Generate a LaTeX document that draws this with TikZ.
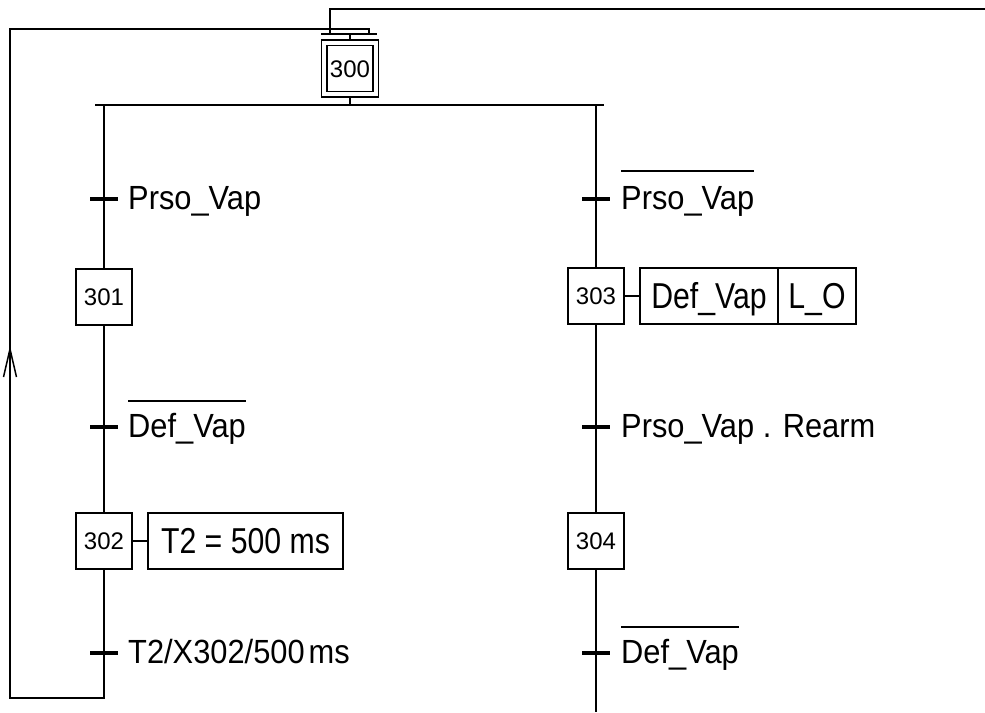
\documentclass[tikz,border=0pt]{standalone}
\usepackage{fontspec}
\setmainfont{Liberation Sans}
\newfontfamily\lblfont[FakeStretch=0.92]{Liberation Sans}
\newfontfamily\actfont[FakeStretch=0.84]{Liberation Sans}
\begin{document}
\begin{tikzpicture}[x=1pt,y=-1pt,
  ln/.style={line width=2pt},
  stepbox/.style={draw,line width=1.6pt,minimum width=56pt,minimum height=56pt,inner sep=0pt,text height=17pt,text depth=0pt,font=\fontsize{24}{28}\selectfont},
  actbox/.style={draw,line width=1.6pt,minimum height=56pt,inner sep=0pt,text height=25.8pt,text depth=0pt,font=\actfont\fontsize{36}{42}\selectfont},
  lbl/.style={anchor=base west,inner sep=0pt,font=\lblfont\fontsize{33.5}{40}\selectfont},
  tick/.style={line width=3.5pt},
  ovl/.style={line width=1.8pt}]
\useasboundingbox (0,0) rectangle (985,712);
% steps
\node[stepbox,minimum width=57pt,minimum height=57pt] (s300) at (350,68.5) {};
\node[stepbox,minimum width=46pt,minimum height=46pt] (s300i) at (350,68.5) {300};
\node[stepbox] (s301) at (104,297) {301};
\node[stepbox] (s302) at (104,541) {302};
\node[stepbox] (s303) at (596,296) {303};
\node[stepbox] (s304) at (596,541) {304};
% actions
\node[actbox,minimum width=195pt] (a302) at (245.5,541) {T2 = 500 ms};
\node[actbox,minimum width=138pt] (a303a) at (709,296) {Def\_Vap};
\node[actbox,minimum width=78pt] (a303b) at (817,296) {L\_O};
\draw[ln] (s302.east) -- (a302.west);
\draw[ln] (s303.east) -- (a303a.west);
% divergence bar
\coordinate (barL) at (95,104.5);
\coordinate (barR) at (604,104.5);
\coordinate (bar300) at (350,104.5);
\coordinate (bL) at (104,104.5);
\coordinate (bR) at (596,104.5);
\draw[ln] (barL) -- (barR);
\draw[ln] (s300.south) -- (bar300);
% top sync bar
\coordinate (sbL) at (321,34);
\coordinate (sbR) at (377,34);
\coordinate (sb300) at (350,34);
\draw[ln] (sbL) -- (sbR);
\draw[ln] (sb300) -- (s300.north);
\coordinate (topA) at (330,34);
\coordinate (topB) at (330,9);
\coordinate (topC) at (985,9);
\draw[ln] (topA) -- (topB) -- (topC);
% transitions coords
\coordinate (t1) at (104,199);
\coordinate (t2) at (104,427);
\coordinate (t3) at (104,653);
\coordinate (t4) at (596,199);
\coordinate (t5) at (596,427);
\coordinate (t6) at (596,653);
% left branch
\draw[ln] (bL) -- (s301.north);
\draw[ln] (s301.south) -- (s302.north);
\coordinate (lb) at (104,698);
\coordinate (lc) at (10,698);
\coordinate (ld) at (10,29);
\coordinate (le) at (369,29);
\coordinate (lf) at (369,34);
\draw[ln] (s302.south) -- (lb) -- (lc) -- (ld) -- (le) -- (lf);
\draw[line width=1.5pt] (3.5,377) -- (10,349) -- (16.5,377);
% right branch
\coordinate (rend) at (596,712);
\draw[ln] (bR) -- (s303.north);
\draw[ln] (s303.south) -- (s304.north);
\draw[ln] (s304.south) -- (rend);
% ticks
\foreach \t in {t1,t2,t3,t4,t5,t6}
  \draw[tick] ([xshift=-14pt]\t) -- ([xshift=14pt]\t);
% labels
\node[lbl] (l1) at (128,209) {Prso\_Vap};
\node[lbl] (l2) at (128,437) {Def\_Vap};
\node[lbl] (l3) at (128,663) {T2/X302/500\hspace{4pt}ms};
\node[lbl] (l4) at (621,209) {Prso\_Vap};
\node[lbl] (l5) at (621,437) {Prso\_Vap . Rearm};
\node[lbl] (l6) at (621,663) {Def\_Vap};
\draw[ovl] ([yshift=36pt]l2.base west) -- ([yshift=36pt]l2.base east);
\draw[ovl] ([yshift=38pt]l4.base west) -- ([yshift=38pt]l4.base east);
\draw[ovl] ([yshift=36pt]l6.base west) -- ([yshift=36pt]l6.base east);
\end{tikzpicture}
\end{document}
